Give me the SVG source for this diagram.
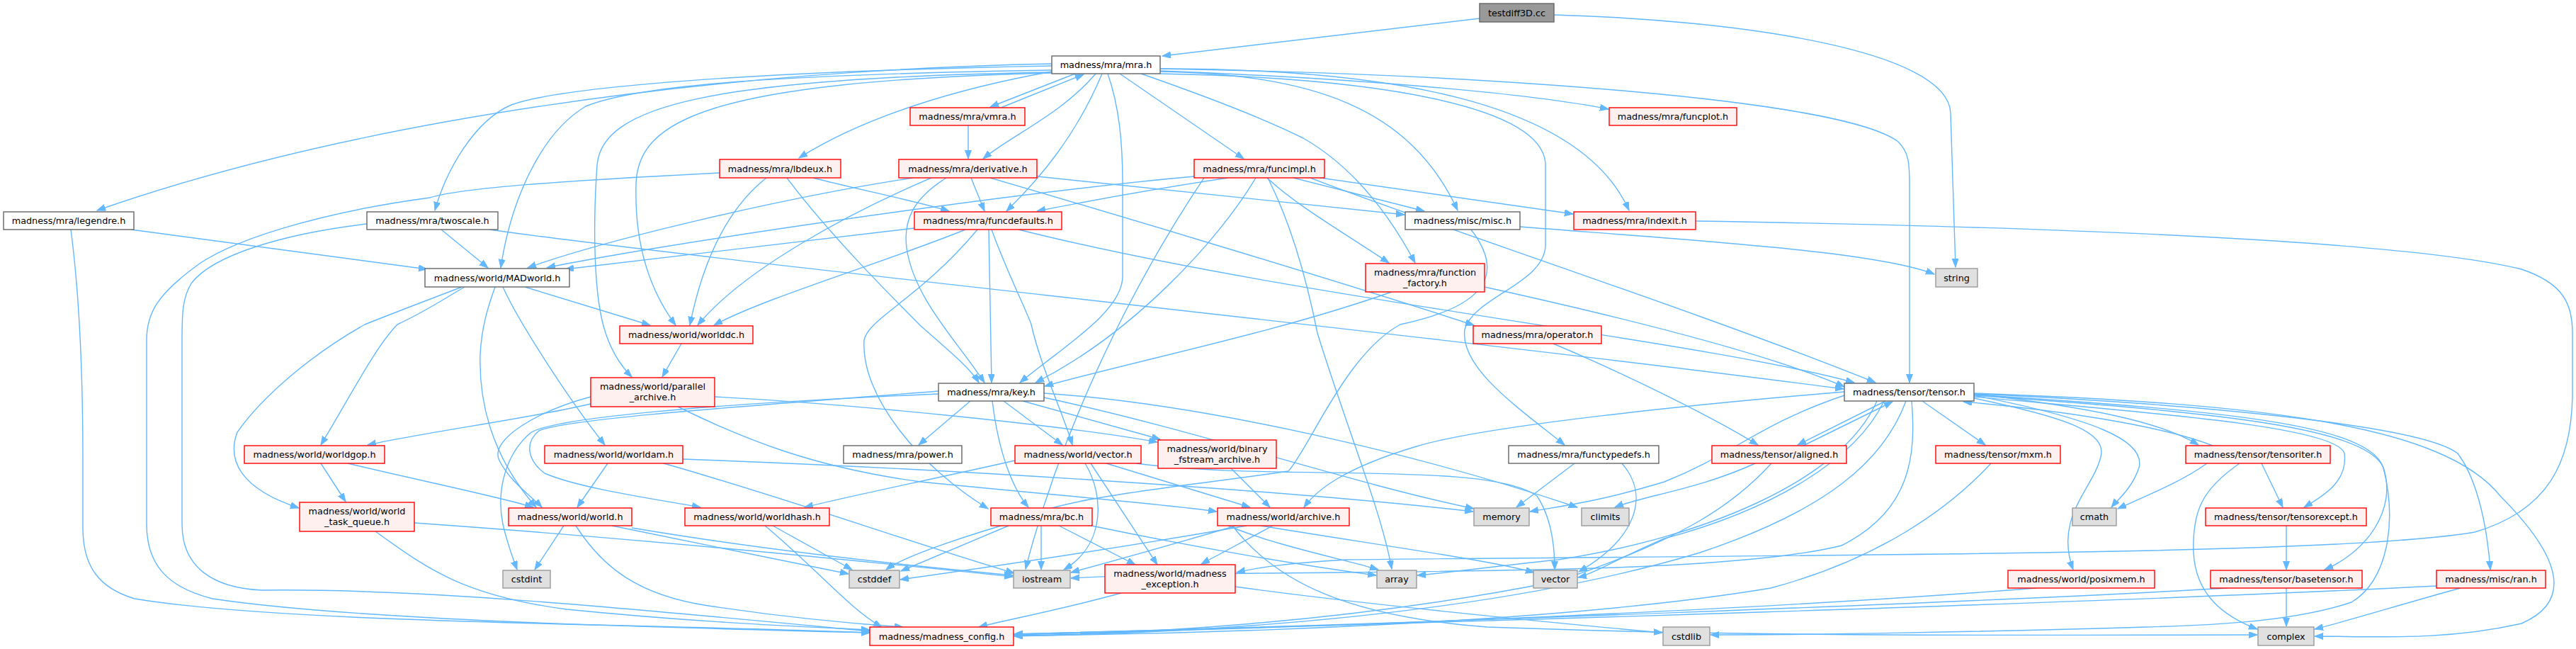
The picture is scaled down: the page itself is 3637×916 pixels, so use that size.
<svg xmlns="http://www.w3.org/2000/svg" width="3637" height="916" viewBox="0 0 3637 916">
<style>
.n rect{stroke-width:1.4}
.w rect{fill:#ffffff;stroke:#666666}
.r rect{fill:#fff0f0;stroke:#ff0000}
.g rect{fill:#e0e0e0;stroke:#999999}
.d rect{fill:#999999;stroke:#666666}
.n text{font-family:"DejaVu Sans",sans-serif;font-size:12.8px;fill:#000;text-anchor:middle}
.e path{fill:none;stroke:#63b8ff;stroke-width:1.4;marker-end:url(#a)}
</style>
<defs>
<marker id="a" markerWidth="13" markerHeight="10" refX="12" refY="4.5" orient="auto" markerUnits="userSpaceOnUse"><path d="M0,0 L12,4.5 L0,9 z" fill="#63b8ff" stroke="#63b8ff" stroke-width="1"/></marker>
</defs>
<rect width="3637" height="916" fill="#ffffff"/>
<g id="edges" class="e">
<path d="M2089,26 L1641,79"/>
<path d="M2194,21 C2450,28 2752,70 2754,160 L2761,377"/>
<path d="M1518,104 L1398,151"/>
<path d="M1413,152 L1530,105"/>
<path d="M1547,104 C1500,160 1430,190 1388,224"/>
<path d="M1367,177 L1367,224"/>
<path d="M1581,104 L1756,224"/>
<path d="M1485,101 C1350,125 1220,165 1128,223"/>
<path d="M1638,100 C1900,110 2150,130 2271,154"/>
<path d="M1485,90 C1000,100 500,170 137,297"/>
<path d="M1485,93 C1100,100 800,120 722,148 C670,170 630,240 614,297"/>
<path d="M1148,251 C1200,265 1300,285 1340,298"/>
<path d="M1371,251 L1390,298"/>
<path d="M1556,104 C1520,190 1470,250 1421,298"/>
<path d="M1734,251 C1640,265 1530,285 1464,298"/>
<path d="M1464,249 L1983,303"/>
<path d="M1826,251 L2011,298"/>
<path d="M1638,101 C1850,105 1990,150 2058,297"/>
<path d="M1864,251 L2221,302"/>
<path d="M1638,97 C1950,97 2230,140 2300,297"/>
<path d="M1611,104 C1700,135 1780,165 1840,195 C1910,235 1960,300 1998,371"/>
<path d="M1789,251 C1830,290 1900,330 1961,371"/>
<path d="M185,324 L603,380"/>
<path d="M623,324 L689,378"/>
<path d="M1485,99 C1100,105 900,120 827,150 C760,190 720,290 707,378"/>
<path d="M1289,251 C1100,280 850,340 745,378"/>
<path d="M1686,249 C1400,275 900,350 772,378"/>
<path d="M1291,322 L798,380"/>
<path d="M741,405 L918,459"/>
<path d="M1485,103 C1000,115 900,170 898,260 C896,330 910,400 954,459"/>
<path d="M1082,251 C1020,300 990,380 974,459"/>
<path d="M1315,251 C1200,300 1050,380 985,459"/>
<path d="M1363,324 C1250,370 1080,420 1008,459"/>
<path d="M1485,102 C1000,110 850,150 843,233 C837,320 838,420 855,470 C865,500 880,520 892,532"/>
<path d="M962,485 L935,532"/>
<path d="M1398,251 C1600,310 1900,400 2081,459"/>
<path d="M1638,104 C1950,110 2175,150 2182,230 L2182,347 C2180,400 2080,420 2068,465 C2060,520 2150,580 2209,628"/>
<path d="M1111,251 C1170,330 1260,420 1300,460 C1340,495 1370,520 1382,540"/>
<path d="M1336,251 C1290,280 1275,310 1280,350 C1290,420 1350,480 1390,540"/>
<path d="M1396,324 L1400,540"/>
<path d="M1564,104 C1580,150 1585,200 1585,260 L1585,390 C1585,440 1500,490 1440,540"/>
<path d="M1773,251 C1720,340 1600,470 1462,540"/>
<path d="M1965,412 C1800,470 1600,510 1475,545"/>
<path d="M1638,97 C2100,105 2600,140 2680,200 C2695,215 2696,230 2696,260 L2696,540"/>
<path d="M691,324 C1000,368 2000,470 2603,549"/>
<path d="M1850,251 C2000,310 2400,440 2648,540"/>
<path d="M1438,324 C1820,420 2400,480 2618,540"/>
<path d="M2096,405 C2300,450 2500,500 2604,546"/>
<path d="M2193,485 C2300,530 2420,590 2482,628"/>
<path d="M2662,566 L2538,628"/>
<path d="M2546,629 L2672,567"/>
<path d="M2714,566 L2803,628"/>
<path d="M2787,556 C2950,575 3050,595 3104,628"/>
<path d="M3124,629 C3050,600 2900,578 2772,567"/>
<path d="M2787,558 C2950,590 3030,620 3020,660 C3010,690 2990,705 2981,716"/>
<path d="M3116,654 C3080,680 3030,700 2990,718"/>
<path d="M2787,562 C2920,590 2975,610 2966,645 C2955,690 2900,730 2927,804"/>
<path d="M3193,654 L3223,716"/>
<path d="M2787,560 C3000,580 3300,600 3310,640 C3315,680 3280,700 3253,716"/>
<path d="M3228,742 L3228,804"/>
<path d="M2787,558 C3100,580 3340,600 3365,660 C3385,720 3340,780 3282,804"/>
<path d="M2787,556 C3100,570 3420,600 3470,640 C3500,680 3512,750 3516,804"/>
<path d="M3228,830 L3228,884"/>
<path d="M3474,830 C3400,850 3320,875 3268,888"/>
<path d="M3162,654 C3110,690 3095,720 3097,780 C3100,840 3140,870 3187,888"/>
<path d="M2787,555 C3200,570 3450,600 3530,700 C3620,790 3630,850 3560,880 C3450,905 3350,898 3268,898"/>
<path d="M1740,742 C1800,820 1900,870 2100,885 C2500,900 2900,896 3187,896"/>
<path d="M1744,828 C1900,850 2200,880 2347,893"/>
<path d="M2787,557 C3150,580 3345,600 3365,660 C3385,740 3370,820 3320,850 C3230,880 3100,883 3030,885 C2800,892 2550,896 2415,896"/>
<path d="M2811,654 C2750,720 2650,790 2500,830 C2200,880 1700,895 1432,897"/>
<path d="M2501,654 C2450,710 2380,760 2200,820 C1900,880 1600,895 1432,897"/>
<path d="M2691,566 C2660,650 2580,720 2400,780 C2100,870 1700,893 1432,898"/>
<path d="M2699,566 C2705,640 2700,720 2600,770 C2400,820 1800,800 1512,816"/>
<path d="M2604,553 C2400,570 2100,600 2000,630 C1900,660 1860,690 1841,716"/>
<path d="M2604,558 C2480,600 2450,640 2350,680 C2250,710 2200,715 2160,722"/>
<path d="M2660,566 C2620,650 2500,720 2350,760 C2280,790 2250,810 2228,815"/>
<path d="M2650,566 C2600,680 2400,760 2200,790 C2100,800 2050,808 2001,812"/>
<path d="M1424,742 L1272,806"/>
<path d="M1470,742 L1470,804"/>
<path d="M1495,742 L1603,797"/>
<path d="M1541,742 C1700,775 1850,800 1943,812"/>
<path d="M1532,654 C1560,700 1560,770 1502,804"/>
<path d="M1540,654 L1634,797"/>
<path d="M1562,654 L1765,716"/>
<path d="M1433,650 C1300,680 1200,700 1136,716"/>
<path d="M1604,654 C1800,680 2100,650 2170,700 C2190,730 2195,770 2195,804"/>
<path d="M1738,661 L1793,716"/>
<path d="M957,574 C1050,620 1150,660 1300,680 C1500,700 1650,712 1718,722"/>
<path d="M1009,560 C1200,570 1500,600 1634,624"/>
<path d="M834,560 C760,580 690,620 705,650 C720,680 750,700 765,716"/>
<path d="M834,570 C750,590 600,610 519,628"/>
<path d="M1734,742 C1800,770 1900,790 1946,804"/>
<path d="M1780,742 C1950,770 2100,790 2166,808"/>
<path d="M1760,742 C1600,770 1400,800 1271,818"/>
<path d="M1745,742 C1650,770 1560,795 1512,808"/>
<path d="M1797,742 L1696,796"/>
<path d="M1091,742 L1203,804"/>
<path d="M1080,742 C1150,800 1200,860 1245,885"/>
<path d="M796,742 L755,804"/>
<path d="M864,742 L1198,810"/>
<path d="M892,745 C1100,780 1300,800 1430,812"/>
<path d="M813,742 C850,800 900,840 1000,855 C1100,870 1200,880 1275,885"/>
<path d="M530,750 C600,800 650,840 800,860 C1000,880 1150,885 1228,889"/>
<path d="M585,738 C900,760 1200,790 1430,814"/>
<path d="M100,324 C110,400 117,500 117,650 L117,745 C117,800 140,830 190,845 C400,880 900,880 1228,893"/>
<path d="M1016,244 C800,255 650,265 607,279 C450,300 320,340 271,380 C225,415 207,440 207,480 L207,740 C207,800 240,830 300,845 C500,875 900,885 1228,893"/>
<path d="M518,316 C400,330 300,360 270,400 C258,420 257,440 257,480 L257,740 C257,800 300,830 370,833 C600,830 900,860 1228,891"/>
<path d="M2077,324 C2120,380 2110,430 1977,458 C1900,500 1850,630 1819,665 C1650,690 1500,700 1420,740 C1320,770 1270,790 1251,804"/>
<path d="M2146,320 C2400,340 2650,355 2731,387"/>
<path d="M2394,312 C2900,320 3400,340 3560,380 C3620,400 3632,430 3632,470 L3632,560 C3630,650 3600,720 3494,751 C3300,785 2500,783 1900,790 C1820,795 1780,800 1746,808"/>
<path d="M3440,827 C3000,850 2000,880 1432,895"/>
<path d="M3145,830 C2800,850 2000,880 1432,895"/>
<path d="M2875,830 C2500,860 1900,885 1432,896"/>
<path d="M1325,552 C1100,570 800,590 761,608 C740,625 745,650 769,668 C820,690 930,705 989,716"/>
<path d="M1325,556 C1000,570 780,590 749,611 C715,640 700,690 710,740 C717,770 725,790 730,804"/>
<path d="M1370,566 L1297,628"/>
<path d="M1401,566 C1410,640 1430,690 1452,716"/>
<path d="M1417,566 L1500,628"/>
<path d="M1444,566 L1638,620"/>
<path d="M1474,555 C1700,570 2000,640 2227,716"/>
<path d="M1474,561 C1700,610 1900,680 2081,718"/>
<path d="M1400,324 C1420,380 1450,440 1456,458 C1470,520 1500,580 1514,628"/>
<path d="M1380,324 C1300,420 1225,450 1220,480 C1215,560 1300,660 1395,718"/>
<path d="M1790,251 C1830,330 1850,420 1860,470 C1900,600 1950,720 1965,803"/>
<path d="M1700,251 C1600,400 1500,600 1448,803"/>
<path d="M2223,654 L2141,716"/>
<path d="M2290,654 C2330,700 2310,760 2229,807"/>
<path d="M2478,654 C2400,690 2320,700 2280,716"/>
<path d="M858,654 L815,716"/>
<path d="M964,648 C1300,660 1800,690 2080,722"/>
<path d="M937,654 C1100,700 1300,770 1432,809"/>
<path d="M491,654 C600,680 700,700 753,716"/>
<path d="M453,654 L488,708"/>
<path d="M656,405 C630,420 600,440 561,458 C530,490 500,550 453,628"/>
<path d="M652,405 C600,425 560,440 515,458 C440,500 370,560 335,610 C320,650 340,690 422,717"/>
<path d="M699,405 C690,430 680,460 678,500 C676,560 690,640 757,716"/>
<path d="M710,405 C730,450 800,560 854,628"/>
<path d="M1583,837 C1500,860 1420,875 1382,885"/>
</g>
<g id="n1" class="n d"><rect x="2089" y="5" width="105" height="26"/><text x="2141.5" y="23">testdiff3D.cc</text></g>
<g id="n2" class="n w"><rect x="1485" y="79" width="153" height="25"/><text x="1561.5" y="96">madness/mra/mra.h</text></g>
<g id="n3" class="n r"><rect x="1285" y="152" width="162" height="25"/><text x="1366" y="169">madness/mra/vmra.h</text></g>
<g id="n4" class="n r"><rect x="2272" y="152" width="180" height="25"/><text x="2362" y="169">madness/mra/funcplot.h</text></g>
<g id="n5" class="n r"><rect x="1016" y="225" width="171" height="26"/><text x="1101.5" y="243">madness/mra/lbdeux.h</text></g>
<g id="n6" class="n r"><rect x="1269" y="225" width="195" height="26"/><text x="1366.5" y="243">madness/mra/derivative.h</text></g>
<g id="n7" class="n r"><rect x="1686" y="225" width="184" height="26"/><text x="1778" y="243">madness/mra/funcimpl.h</text></g>
<g id="n8" class="n w"><rect x="5" y="299" width="184" height="25"/><text x="97" y="316">madness/mra/legendre.h</text></g>
<g id="n9" class="n w"><rect x="518" y="299" width="185" height="25"/><text x="610.5" y="316">madness/mra/twoscale.h</text></g>
<g id="n10" class="n r"><rect x="1291" y="299" width="208" height="25"/><text x="1395" y="316">madness/mra/funcdefaults.h</text></g>
<g id="n11" class="n w"><rect x="1984" y="299" width="162" height="25"/><text x="2065" y="316">madness/misc/misc.h</text></g>
<g id="n12" class="n r"><rect x="2222" y="299" width="172" height="25"/><text x="2308" y="316">madness/mra/indexit.h</text></g>
<g id="n13" class="n w"><rect x="600" y="379" width="204" height="26"/><text x="702" y="397">madness/world/MADworld.h</text></g>
<g id="n14" class="n r"><rect x="1928" y="372" width="168" height="40"/><text x="2012" y="388.5">madness/mra/function</text><text x="2012" y="403.5">_factory.h</text></g>
<g id="n15" class="n g"><rect x="2733" y="379" width="59" height="26"/><text x="2762.5" y="397">string</text></g>
<g id="n16" class="n r"><rect x="875" y="460" width="188" height="25"/><text x="969" y="477">madness/world/worlddc.h</text></g>
<g id="n17" class="n r"><rect x="2080" y="460" width="181" height="25"/><text x="2170.5" y="477">madness/mra/operator.h</text></g>
<g id="n18" class="n r"><rect x="834" y="533" width="175" height="41"/><text x="921.5" y="549.5">madness/world/parallel</text><text x="921.5" y="564.5">_archive.h</text></g>
<g id="n19" class="n w"><rect x="1325" y="541" width="149" height="25"/><text x="1399.5" y="558">madness/mra/key.h</text></g>
<g id="n20" class="n w"><rect x="2604" y="541" width="183" height="25"/><text x="2695.5" y="558">madness/tensor/tensor.h</text></g>
<g id="n21" class="n r"><rect x="345" y="629" width="198" height="25"/><text x="444" y="646">madness/world/worldgop.h</text></g>
<g id="n22" class="n r"><rect x="769" y="629" width="195" height="25"/><text x="866.5" y="646">madness/world/worldam.h</text></g>
<g id="n23" class="n w"><rect x="1191" y="629" width="167" height="25"/><text x="1274.5" y="646">madness/mra/power.h</text></g>
<g id="n24" class="n r"><rect x="1433" y="629" width="178" height="25"/><text x="1522" y="646">madness/world/vector.h</text></g>
<g id="n25" class="n r"><rect x="1635" y="621" width="167" height="40"/><text x="1718.5" y="637.5">madness/world/binary</text><text x="1718.5" y="652.5">_fstream_archive.h</text></g>
<g id="n26" class="n w"><rect x="2130" y="629" width="212" height="25"/><text x="2236" y="646">madness/mra/functypedefs.h</text></g>
<g id="n27" class="n r"><rect x="2417" y="629" width="190" height="25"/><text x="2512" y="646">madness/tensor/aligned.h</text></g>
<g id="n28" class="n r"><rect x="2733" y="629" width="176" height="25"/><text x="2821" y="646">madness/tensor/mxm.h</text></g>
<g id="n29" class="n r"><rect x="3086" y="629" width="204" height="25"/><text x="3188" y="646">madness/tensor/tensoriter.h</text></g>
<g id="n30" class="n r"><rect x="423" y="709" width="162" height="41"/><text x="504" y="725.5">madness/world/world</text><text x="504" y="740.5">_task_queue.h</text></g>
<g id="n31" class="n r"><rect x="718" y="717" width="174" height="25"/><text x="805" y="734">madness/world/world.h</text></g>
<g id="n32" class="n r"><rect x="967" y="717" width="204" height="25"/><text x="1069" y="734">madness/world/worldhash.h</text></g>
<g id="n33" class="n r"><rect x="1399" y="717" width="143" height="25"/><text x="1470.5" y="734">madness/mra/bc.h</text></g>
<g id="n34" class="n r"><rect x="1719" y="717" width="186" height="25"/><text x="1812" y="734">madness/world/archive.h</text></g>
<g id="n35" class="n g"><rect x="2081" y="717" width="78" height="25"/><text x="2120" y="734">memory</text></g>
<g id="n36" class="n g"><rect x="2233" y="717" width="67" height="25"/><text x="2266.5" y="734">climits</text></g>
<g id="n37" class="n g"><rect x="2926" y="717" width="62" height="25"/><text x="2957" y="734">cmath</text></g>
<g id="n38" class="n r"><rect x="3114" y="717" width="227" height="25"/><text x="3227.5" y="734">madness/tensor/tensorexcept.h</text></g>
<g id="n39" class="n g"><rect x="710" y="805" width="67" height="25"/><text x="743.5" y="822">cstdint</text></g>
<g id="n40" class="n g"><rect x="1199" y="805" width="71" height="25"/><text x="1234.5" y="822">cstddef</text></g>
<g id="n41" class="n g"><rect x="1431" y="805" width="80" height="25"/><text x="1471" y="822">iostream</text></g>
<g id="n42" class="n r"><rect x="1560" y="797" width="184" height="40"/><text x="1652" y="813.5">madness/world/madness</text><text x="1652" y="828.5">_exception.h</text></g>
<g id="n43" class="n g"><rect x="1944" y="805" width="56" height="25"/><text x="1972" y="822">array</text></g>
<g id="n44" class="n g"><rect x="2165" y="805" width="62" height="25"/><text x="2196" y="822">vector</text></g>
<g id="n45" class="n r"><rect x="2835" y="805" width="207" height="25"/><text x="2938.5" y="822">madness/world/posixmem.h</text></g>
<g id="n46" class="n r"><rect x="3121" y="805" width="214" height="25"/><text x="3228" y="822">madness/tensor/basetensor.h</text></g>
<g id="n47" class="n r"><rect x="3440" y="805" width="154" height="25"/><text x="3517" y="822">madness/misc/ran.h</text></g>
<g id="n48" class="n r"><rect x="1228" y="885" width="203" height="26"/><text x="1329.5" y="903">madness/madness_config.h</text></g>
<g id="n49" class="n g"><rect x="2348" y="885" width="66" height="26"/><text x="2381" y="903">cstdlib</text></g>
<g id="n50" class="n g"><rect x="3188" y="885" width="79" height="26"/><text x="3227.5" y="903">complex</text></g>
</svg>
